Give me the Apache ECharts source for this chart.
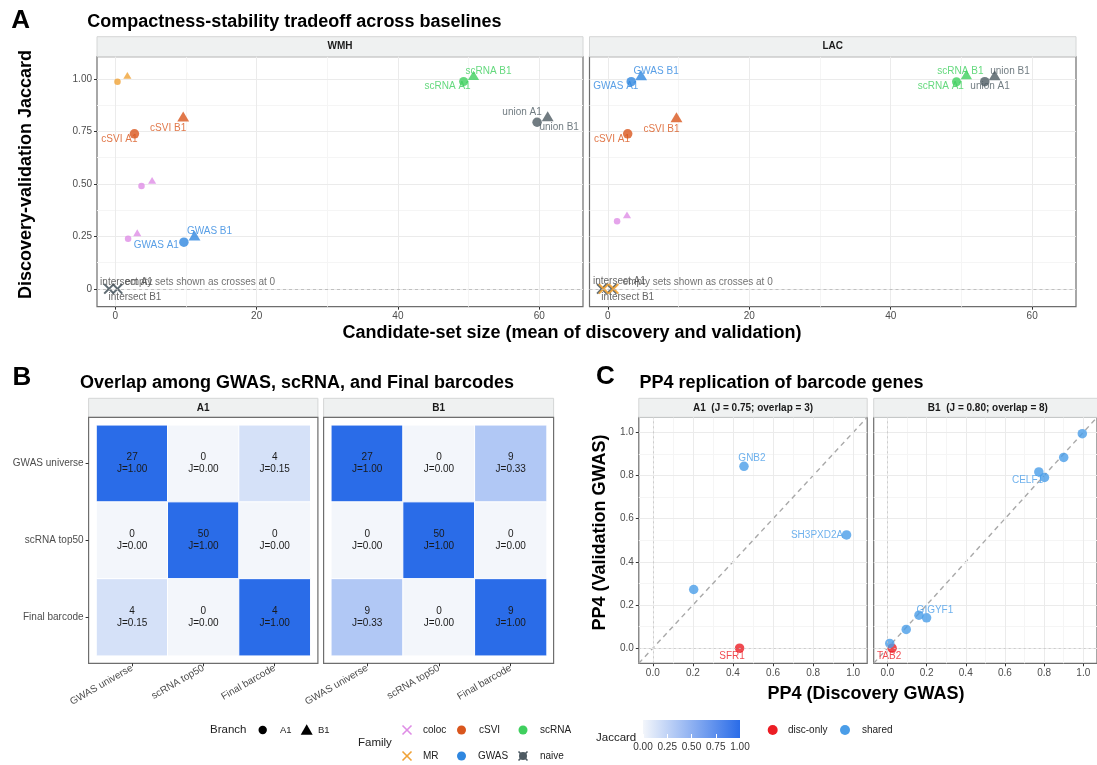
<!DOCTYPE html>
<html><head><meta charset="utf-8">
<script src="https://cdn.jsdelivr.net/npm/echarts@6/dist/echarts.min.js"></script>
<style>html,body{margin:0;padding:0;background:#fff}#c{width:1097px;height:765px}</style>
</head><body><div id="c"></div>
<script>
const FONT = "'Liberation Sans', Arial, Helvetica, sans-serif";

// ================= DATA =================
// ---- Panel A: compactness vs stability ----
const aXTicks = [0, 20, 40, 60];
const aXTickLabels = ['0', '20', '40', '60'];
const aXMinor = [10, 30, 50];
const aYTicks = [0, 0.25, 0.5, 0.75, 1];
const aYTickLabels = ['0', '0.25', '0.50', '0.75', '1.00'];
const aYMinor = [0.125, 0.375, 0.625, 0.875];

const wmhFamily = ['MR','MR','cSVI','cSVI','coloc','coloc','coloc','coloc','GWAS','GWAS','scRNA','scRNA','naive','naive'];
const wmhBranch = ['A1','B1','A1','B1','A1','B1','A1','B1','A1','B1','A1','B1','A1','B1'];
const wmhSize = [0.3, 1.7, 2.7, 9.6, 3.7, 5.2, 1.8, 3.1, 9.7, 11.2, 49.3, 50.7, 59.7, 61.2];
const wmhJaccard = [0.986, 1.016, 0.738, 0.820, 0.489, 0.516, 0.238, 0.267, 0.222, 0.254, 0.987, 1.016, 0.793, 0.822];
const wmhLabel = ['', '', 'cSVI A1', 'cSVI B1', '', '', '', '', 'GWAS A1', 'GWAS B1', 'scRNA A1', 'scRNA B1', 'union A1', 'union B1'];
const wmhEmptyFamily = ['naive', 'naive'];
const wmhEmptyX = [-0.9, 0.3];
const wmhEmptyLabel = ['intersect A1', 'intersect B1'];

const lacFamily = ['cSVI','cSVI','coloc','coloc','GWAS','GWAS','scRNA','scRNA','naive','naive'];
const lacBranch = ['A1','B1','A1','B1','A1','B1','A1','B1','A1','B1'];
const lacSize = [2.8, 9.7, 1.3, 2.7, 3.3, 4.7, 49.3, 50.7, 53.3, 54.7];
const lacJaccard = [0.738, 0.817, 0.322, 0.352, 0.986, 1.017, 0.986, 1.020, 0.986, 1.017];
const lacLabel = ['cSVI A1', 'cSVI B1', '', '', 'GWAS A1', 'GWAS B1', 'scRNA A1', 'scRNA B1', 'union A1', 'union B1'];
const lacEmptyFamily = ['naive', 'naive', 'MR', 'MR'];
const lacEmptyX = [-0.85, 0.55, -0.6, 0.8];
const lacEmptyLabel = ['intersect A1', 'intersect B1', '', ''];

const aNoteText = 'empty sets shown as crosses at 0';
const aNoteX = [12.0, 12.7];
const aNoteY = 0.03;

// ---- Panel B: overlap heatmaps ----
const bSets = ['GWAS universe', 'scRNA top50', 'Final barcode'];
const bA1Count = [[27, 0, 4], [0, 50, 0], [4, 0, 4]];
const bA1J = [[1.00, 0.00, 0.15], [0.00, 1.00, 0.00], [0.15, 0.00, 1.00]];
const bB1Count = [[27, 0, 9], [0, 50, 0], [9, 0, 9]];
const bB1J = [[1.00, 0.00, 0.33], [0.00, 1.00, 0.00], [0.33, 0.00, 1.00]];

// ---- Panel C: PP4 replication ----
const cTicks = [0, 0.2, 0.4, 0.6, 0.8, 1.0];
const cTickLabels = ['0.0', '0.2', '0.4', '0.6', '0.8', '1.0'];
const cMinor = [0.1, 0.3, 0.5, 0.7, 0.9];
const cStripA1 = 'A1  (J = 0.75; overlap = 3)';
const cStripB1 = 'B1  (J = 0.80; overlap = 8)';
const cA1Disc = [0.204, 0.455, 0.967, 0.433];
const cA1Val = [0.272, 0.843, 0.525, 0.000];
const cA1Status = ['shared', 'shared', 'shared', 'disc-only'];
const cA1Gene = ['', 'GNB2', 'SH3PXD2A', 'SFR1'];
const cB1Disc = [0.012, 0.096, 0.161, 0.200, 0.773, 0.802, 0.900, 0.995, 0.024];
const cB1Val = [0.022, 0.087, 0.153, 0.141, 0.817, 0.791, 0.884, 0.994, 0.000];
const cB1Status = ['shared','shared','shared','shared','shared','shared','shared','shared','disc-only'];
const cB1Gene = ['', '', 'GIGYF1', '', '', 'CELF1', '', '', 'TAB2'];

// ================= STYLE =================
const famColor = {MR:'#f0a236', cSVI:'#d9561d', coloc:'#df8de6', GWAS:'#2f87e0', scRNA:'#3fcf5e', naive:'#4e5b63'};
const famSize = {MR:6.5, coloc:6.5, cSVI:9.5, GWAS:9.5, scRNA:9, naive:9.5};
const statusColor = {'shared':'#4a9de8', 'disc-only':'#ec1d24'};
const jaccardColors = ['#f3f6fb', '#2a6ce8'];
const crossPath = 'path://M0,1.3L1.3,0L5,3.7L8.7,0L10,1.3L6.3,5L10,8.7L8.7,10L5,6.3L1.3,10L0,8.7L3.7,5Z';
const aLabelOffset = {
  'WMH|scRNA B1':[15,-4], 'WMH|scRNA A1':[-16,5], 'WMH|union A1':[-15,-10], 'WMH|union B1':[11.5,11.5],
  'WMH|cSVI B1':[-15,12], 'WMH|cSVI A1':[-15,5.7], 'WMH|GWAS B1':[15,-4], 'WMH|GWAS A1':[-27.6,3.3],
  'WMH|intersect A1':[17.5,-7], 'WMH|intersect B1':[17.5,8],
  'LAC|GWAS B1':[15,-4], 'LAC|GWAS A1':[-15.4,5], 'LAC|cSVI B1':[-15,11.7], 'LAC|cSVI A1':[-15.7,5.7],
  'LAC|scRNA B1':[-6,-3.5], 'LAC|scRNA A1':[-15.7,5], 'LAC|union B1':[15.3,-4], 'LAC|union A1':[5.3,5],
  'LAC|intersect A1':[17.5,-7.5], 'LAC|intersect B1':[16,8]
};
const cLabelOffset = {
  'A1|GNB2':[8,-8.5], 'A1|SH3PXD2A':[-29.5,0], 'A1|SFR1':[-7.5,8.5],
  'B1|GIGYF1':[16,-5], 'B1|TAB2':[-3,8.5], 'B1|CELF1':[-17,2.5]
};

// ================= BUILD =================
const grids = [], xAxes = [], yAxes = [], series = [], gfx = [];

function fmt(c, v) {
  const i = c.ticks.findIndex(t => Math.abs(t - v) < 1e-9);
  return i >= 0 ? c.labels[i] : '';
}
function majorAxis(gi, dim, c) {
  return {
    type:'value', gridIndex:gi, min:c.min, max:c.max, position: dim === 'x' ? 'bottom' : 'left', z:3,
    axisLine:{show:false, onZero:false},
    axisTick:{show:c.show, length:3, customValues:c.ticks, lineStyle:{color:'#333', width:1}},
    axisLabel:{show:c.show, customValues:c.ticks, margin:c.margin, fontSize:10, color:'#4d4d4d', fontFamily:FONT,
               formatter: v => fmt(c, v)},
    splitLine:{show:true, lineStyle:{color:'#ebebeb', width:1}}
  };
}
function minorAxis(gi, dim, c) {
  return {
    type:'value', gridIndex:gi, min:c.min, max:c.max, position: dim === 'x' ? 'top' : 'right',
    axisLine:{show:false, onZero:false}, axisTick:{show:false, customValues:c.minor},
    axisLabel:{show:false, customValues:c.minor},
    splitLine:{show:true, lineStyle:{color:'#f5f5f5', width:1}}
  };
}
function addValueGrid(rect, xc, yc) {
  const gi = grids.length;
  grids.push({left:rect[0], top:rect[1], width:rect[2], height:rect[3], show:true,
              backgroundColor:'#fff', borderColor:'#6e6e6e', borderWidth:1.2});
  const xi = xAxes.length; xAxes.push(majorAxis(gi, 'x', xc), minorAxis(gi, 'x', xc));
  const yi = yAxes.length; yAxes.push(majorAxis(gi, 'y', yc), minorAxis(gi, 'y', yc));
  return {gi, xi, yi};
}
function strip(x, y, w, h, text) {
  gfx.push({type:'rect', shape:{x, y, width:w, height:h}, style:{fill:'#eff1f1', stroke:'#d4d6d6', lineWidth:1}, z:1});
  gfx.push({type:'text', x:x + w / 2, y:y + h / 2, z:2,
            style:{text, font:`bold 10px ${FONT}`, fill:'#1a1a1a', textAlign:'center', textVerticalAlign:'middle', align:'center', verticalAlign:'middle'}});
}
function txt(x, y, text, size, o) {
  o = o || {};
  const el = {type:'text', x, y, z:5,
    style:{text, font:`${o.bold ? 'bold ' : ''}${size}px ${FONT}`, fill:o.fill || '#000',
           textAlign:o.align || 'left', align:o.align || 'left', textVerticalAlign:'middle', verticalAlign:'middle'}};
  if (o.rot) el.rotation = o.rot;
  gfx.push(el);
}

// ---------- Panel A ----------
const aX = {min:-2.6, max:66.2, ticks:aXTicks, labels:aXTickLabels, minor:aXMinor, margin:4.5};
const aYshow = {min:-0.085, max:1.105, ticks:aYTicks, labels:aYTickLabels, minor:aYMinor, margin:5, show:true};
const aYhide = Object.assign({}, aYshow, {show:false});
const aFacetDefs = [
  {name:'WMH', rect:[97, 56.7, 486, 250], y:aYshow, fam:wmhFamily, br:wmhBranch, xs:wmhSize, ys:wmhJaccard, lab:wmhLabel,
   eFam:wmhEmptyFamily, eX:wmhEmptyX, eLab:wmhEmptyLabel, noteX:aNoteX[0]},
  {name:'LAC', rect:[589.5, 56.7, 486.5, 250], y:aYhide, fam:lacFamily, br:lacBranch, xs:lacSize, ys:lacJaccard, lab:lacLabel,
   eFam:lacEmptyFamily, eX:lacEmptyX, eLab:lacEmptyLabel, noteX:aNoteX[1]}
];
aFacetDefs.forEach(f => {
  const g = addValueGrid(f.rect, Object.assign({show:true}, aX), f.y);
  strip(f.rect[0], 36.7, f.rect[2], 20, f.name);
  series.push({
    type:'scatter', xAxisIndex:g.xi, yAxisIndex:g.yi, z:3,
    data:f.xs.map((x, i) => {
      const fm = f.fam[i], s = famSize[fm];
      return {
        value:[x, f.ys[i]],
        symbol: f.br[i] === 'A1' ? 'circle' : 'triangle',
        symbolSize: f.br[i] === 'A1' ? s : [s * 1.25, s * 1.05],
        itemStyle:{color:famColor[fm]},
        label:{show:!!f.lab[i], formatter:f.lab[i] || ' ', color:famColor[fm],
               offset:aLabelOffset[f.name + '|' + f.lab[i]] || [0, 0]}
      };
    }),
    label:{position:'inside', fontSize:10, fontFamily:FONT},
    emphasis:{disabled:true},
    markLine:{silent:true, symbol:'none', label:{show:false}, animation:false,
              lineStyle:{type:[3, 3], color:'#b5b5b5', width:0.8}, data:[{yAxis:0}]}
  });
  series.push({
    type:'scatter', xAxisIndex:g.xi, yAxisIndex:g.yi, z:4,
    data:f.eX.map((x, i) => ({
      value:[x, 0], symbol:crossPath, symbolSize:11,
      itemStyle:{color:famColor[f.eFam[i]], opacity:0.9},
      label:{show:!!f.eLab[i], formatter:f.eLab[i] || ' ', color:'#555',
             offset:aLabelOffset[f.name + '|' + f.eLab[i]] || [0, 0]}
    })),
    label:{position:'inside', fontSize:10, fontFamily:FONT},
    emphasis:{disabled:true}
  });
  series.push({
    type:'scatter', xAxisIndex:g.xi, yAxisIndex:g.yi, z:4, symbolSize:1,
    itemStyle:{color:'rgba(0,0,0,0)'},
    data:[[f.noteX, aNoteY]],
    label:{show:true, position:'inside', formatter:aNoteText, fontSize:10, color:'#4d4d4d', fontFamily:FONT},
    emphasis:{disabled:true}
  });
});

// ---------- Panel B ----------
const heatIdx = [];
const bFacetDefs = [
  {name:'A1', tile:[96.5, 425.3, 213.8, 230.4], panel:[88.6, 417.3, 229.3, 246], cnt:bA1Count, J:bA1J, showY:true},
  {name:'B1', tile:[331.3, 425.3, 215.3, 230.4], panel:[323.6, 417.3, 230, 246], cnt:bB1Count, J:bB1J, showY:false}
];
bFacetDefs.forEach(f => {
  const gi = grids.length;
  grids.push({left:f.tile[0], top:f.tile[1], width:f.tile[2], height:f.tile[3], show:false});
  const xi = xAxes.length, yi = yAxes.length;
  xAxes.push({type:'category', gridIndex:gi, data:bSets, position:'bottom', offset:7.6, z:3,
    axisLine:{show:false, onZero:false}, axisTick:{show:true, length:3, alignWithLabel:true, lineStyle:{color:'#333'}},
    axisLabel:{rotate:30, fontSize:10, color:'#4d4d4d', margin:4, fontFamily:FONT}, splitLine:{show:false}});
  yAxes.push({type:'category', gridIndex:gi, data:bSets, inverse:true, position:'left', offset:7.9, z:3,
    axisLine:{show:false, onZero:false}, axisTick:{show:f.showY, length:3, alignWithLabel:true, lineStyle:{color:'#333'}},
    axisLabel:{show:f.showY, fontSize:10, color:'#4d4d4d', margin:5, fontFamily:FONT}, splitLine:{show:false}});
  const data = [];
  f.J.forEach((row, r) => row.forEach((j, c) => data.push([c, r, j, f.cnt[r][c]])));
  heatIdx.push(series.length);
  series.push({type:'heatmap', xAxisIndex:xi, yAxisIndex:yi, data, emphasis:{disabled:true},
    itemStyle:{borderColor:'#fff', borderWidth:1},
    label:{show:true, fontSize:10, lineHeight:12, color:'#1a1a1a', fontFamily:FONT,
           formatter:p => p.data[3] + '\nJ=' + p.data[2].toFixed(2)}});
  gfx.push({type:'rect', shape:{x:f.panel[0], y:f.panel[1], width:f.panel[2], height:f.panel[3]},
            style:{fill:null, stroke:'#6e6e6e', lineWidth:1.2}, z:3});
  strip(f.panel[0], 398.3, f.panel[2], 19, f.name);
});

// ---------- Panel C ----------
const cMin = -0.07, cMax = 1.07;
const cXc = {min:cMin, max:cMax, ticks:cTicks, labels:cTickLabels, minor:cMinor, margin:4.5, show:true};
const cYshow = Object.assign({}, cXc, {margin:5});
const cYhide = Object.assign({}, cXc, {show:false});
const cFacetDefs = [
  {name:'A1', strip:cStripA1, rect:[638.8, 417.3, 228.4, 246], y:cYshow, xs:cA1Disc, ys:cA1Val, st:cA1Status, gene:cA1Gene},
  {name:'B1', strip:cStripB1, rect:[873.7, 417.3, 228.4, 246], y:cYhide, xs:cB1Disc, ys:cB1Val, st:cB1Status, gene:cB1Gene}
];
cFacetDefs.forEach(f => {
  const g = addValueGrid(f.rect, cXc, f.y);
  strip(f.rect[0], 398.3, f.rect[2], 19, f.strip);
  series.push({type:'line', xAxisIndex:g.xi, yAxisIndex:g.yi, data:[[cMin, cMin], [cMax, cMax]], symbol:'none', z:2,
    lineStyle:{color:'#a9a9a9', width:1.4, type:[5, 4]}, emphasis:{disabled:true}, clip:true,
    markLine:{silent:true, symbol:'none', label:{show:false}, animation:false,
              lineStyle:{type:[2, 3], color:'#c4c4c4', width:0.8}, data:[{xAxis:0}, {yAxis:0}]}});
  ['disc-only', 'shared'].forEach(status => {
    series.push({type:'scatter', xAxisIndex:g.xi, yAxisIndex:g.yi, z:3, symbolSize:9.5,
      itemStyle:{color:statusColor[status]}, emphasis:{disabled:true},
      label:{position:'inside', fontSize:10, fontFamily:FONT, color:statusColor[status]},
      data:f.xs.map((x, i) => ({x, i})).filter(d => f.st[d.i] === status).map(d => ({
        value:[d.x, f.ys[d.i]],
        label:{show:!!f.gene[d.i], formatter:f.gene[d.i] || ' ', offset:cLabelOffset[f.name + '|' + f.gene[d.i]] || [0, 0]}
      }))});
  });
});

// ---------- Colorbar axis (legend) ----------
{
  const gi = grids.length;
  grids.push({left:643, top:720, width:97, height:18, show:false});
  xAxes.push({type:'value', gridIndex:gi, min:0, max:1, interval:0.25, z:6,
    axisLine:{show:false, onZero:false}, axisTick:{show:true, inside:true, length:4, lineStyle:{color:'#fff', width:1}},
    axisLabel:{fontSize:10, color:'#333', margin:4, fontFamily:FONT, formatter:v => v.toFixed(2)}, splitLine:{show:false}});
  yAxes.push({type:'value', gridIndex:gi, show:false, min:0, max:1});
  gfx.push({type:'rect', shape:{x:643, y:720, width:97, height:18}, z:1,
    style:{fill:new echarts.graphic.LinearGradient(0, 0, 1, 0, [{offset:0, color:jaccardColors[0]}, {offset:1, color:jaccardColors[1]}])}});
}

// ---------- Titles & axis titles ----------
txt(20.7, 21, 'A', 26, {bold:true, align:'center'});
txt(87.3, 21.7, 'Compactness-stability tradeoff across baselines', 18, {bold:true});
txt(26, 174.5, 'Discovery-validation Jaccard', 18, {bold:true, align:'center', rot:Math.PI / 2});
txt(572, 333, 'Candidate-set size (mean of discovery and validation)', 18, {bold:true, align:'center'});
txt(22, 377.7, 'B', 26, {bold:true, align:'center'});
txt(80, 382.7, 'Overlap among GWAS, scRNA, and Final barcodes', 18, {bold:true});
txt(605.5, 376.7, 'C', 26, {bold:true, align:'center'});
txt(639.5, 382.7, 'PP4 replication of barcode genes', 18, {bold:true});
txt(600.4, 532.5, 'PP4 (Validation GWAS)', 18, {bold:true, align:'center', rot:Math.PI / 2});
txt(866, 694, 'PP4 (Discovery GWAS)', 18, {bold:true, align:'center'});

// ---------- Legends ----------
function xIcon(cx, cy, r, color) {
  gfx.push({type:'line', shape:{x1:cx - r, y1:cy - r, x2:cx + r, y2:cy + r}, style:{stroke:color, lineWidth:1.6}, z:5});
  gfx.push({type:'line', shape:{x1:cx - r, y1:cy + r, x2:cx + r, y2:cy - r}, style:{stroke:color, lineWidth:1.6}, z:5});
}
function dot(cx, cy, r, color) { gfx.push({type:'circle', shape:{cx, cy, r}, style:{fill:color}, z:5}); }
txt(210, 730, 'Branch', 11.5, {fill:'#222'});
dot(262.7, 730, 4.2, '#000');
txt(280, 730, 'A1', 9.5, {fill:'#222'});
gfx.push({type:'polygon', shape:{points:[[300.7, 734.8], [312.7, 734.8], [306.7, 724.3]]}, style:{fill:'#000'}, z:5});
txt(318, 730, 'B1', 9.5, {fill:'#222'});
txt(358, 743, 'Family', 11.5, {fill:'#222'});
xIcon(407, 730, 4.5, famColor.coloc); txt(423, 730, 'coloc', 10, {fill:'#222'});
dot(461.5, 730, 4.5, famColor.cSVI); txt(479, 730, 'cSVI', 10, {fill:'#222'});
dot(523, 730, 4.5, famColor.scRNA); txt(540, 730, 'scRNA', 10, {fill:'#222'});
xIcon(407, 756, 4.5, famColor.MR); txt(423, 756, 'MR', 10, {fill:'#222'});
dot(461.5, 756, 4.5, famColor.GWAS); txt(478, 756, 'GWAS', 10, {fill:'#222'});
dot(523, 756, 4, famColor.naive); xIcon(523, 756, 4.5, famColor.naive); txt(540, 756, 'naive', 10, {fill:'#222'});
txt(596, 738, 'Jaccard', 11.5, {fill:'#222'});
dot(772.7, 730, 5, statusColor['disc-only']); txt(788, 730, 'disc-only', 10, {fill:'#222'});
dot(845, 730, 5, statusColor['shared']); txt(862, 730, 'shared', 10, {fill:'#222'});

const option = {
  backgroundColor:'#fff', animation:false, textStyle:{fontFamily:FONT},
  grid:grids, xAxis:xAxes, yAxis:yAxes,
  visualMap:[{type:'continuous', show:false, min:0, max:1, dimension:2, seriesIndex:heatIdx, inRange:{color:jaccardColors}}],
  series, graphic:{elements:gfx}
};
const chart = echarts.init(document.getElementById('c'), null, {renderer:'canvas', width:1097, height:765});
chart.setOption(option);
</script>
</body></html>
